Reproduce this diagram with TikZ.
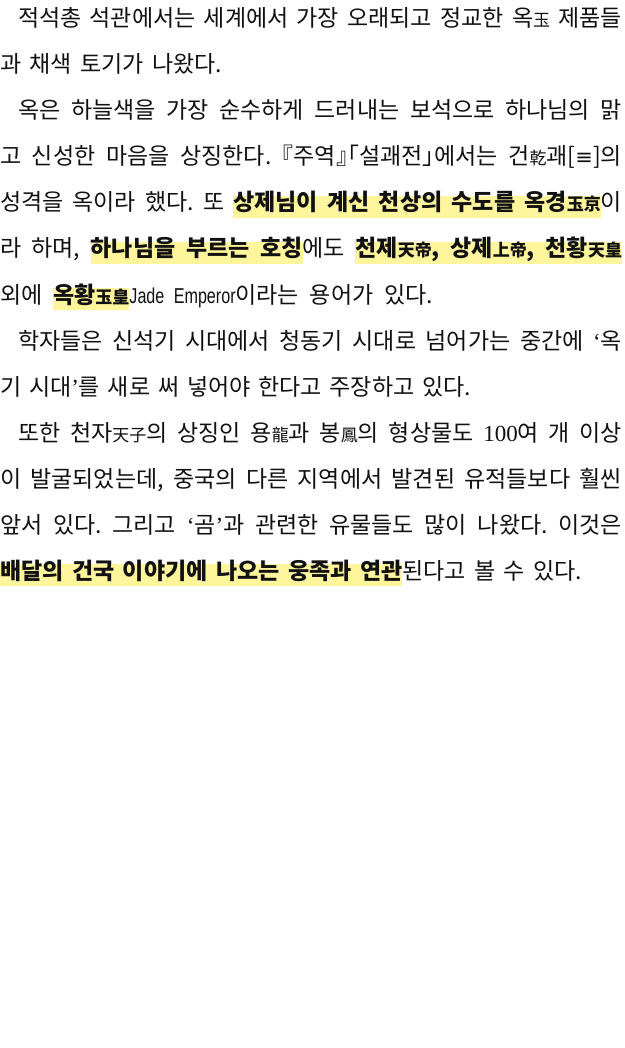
\documentclass[tikz,border=0pt]{standalone}
\usepackage{fontspec}
\setmainfont{Noto Sans CJK KR}
\newfontfamily\brk[RawFeature=+halt]{Noto Sans CJK KR}
\newfontfamily\latn[FakeStretch=0.75]{Liberation Sans}
\newfontfamily\serf{Liberation Serif}
\newfontfamily\dv{DejaVu Sans}
\usepackage{xcolor}
\definecolor{hlc}{HTML}{FFF59D}
\definecolor{txt}{HTML}{111111}
\newcommand\hj[1]{{\fontsize{17pt}{17pt}\selectfont #1}}
\newcommand\hw[1]{\setbox0=\hbox{#1}\rlap{\textcolor{hlc}{\rule[-7pt]{\wd0}{22pt}}}\box0}
\newcommand\hs{{\color{hlc}\leaders\hrule height 15pt depth 7pt\hskip\fontdimen2\font plus\fontdimen3\font minus\fontdimen4\font}}
\newcommand\jem{{\latn\fontsize{21.5pt}{22pt}\selectfont Jade Emperor}}
\tikzset{ln/.style={anchor=base west, inner sep=0pt, outer sep=0pt, text=txt,
  font=\fontsize{23pt}{27pt}\selectfont\frenchspacing}}
\begin{document}
\begin{tikzpicture}[x=1pt,y=1pt]
\fill[white] (0,0) rectangle (624,-1048);
\useasboundingbox (0,0) rectangle (624,-1048);
\node[ln] (l1) at (18,-27) {\makebox[604pt][s]{적석총 석관에서는 세계에서 가장 오래되고 정교한 옥\hj{玉} 제품들}};
\node[ln] (l2) at (0,-73) {\makebox[222pt][s]{과 채색 토기가 나왔다.}};
\node[ln] (l3) at (18,-119) {\makebox[604pt][s]{옥은 하늘색을 가장 순수하게 드러내는 보석으로 하나님의 맑}};
\node[ln] (l4) at (0,-165) {\makebox[622pt][s]{고 신성한 마음을 상징한다. {\brk 『}주역{\brk 』「}설괘전{\brk 」}에서는 건\hj{乾}괘[{\dv\fontsize{21pt}{21pt}\selectfont ≡}]의}};
\node[ln] (l5) at (0,-211) {\makebox[622pt][s]{성격을 옥이라 했다. 또 {\bfseries\hw{상제님이}\hs\hw{계신}\hs\hw{천상의}\hs\hw{수도를}\hs\hw{옥경\hj{玉京}}}이}};
\node[ln] (l6) at (0,-257) {\makebox[622pt][s]{라 하며, {\bfseries\hw{하나님을}\hs\hw{부르는}\hs\hw{호칭}}에도 {\bfseries\hw{천제\hj{天帝},}\hs\hw{상제\hj{上帝},}\hs\hw{천황\hj{天皇}}}}};
\node[ln] (l7) at (0,-303) {\makebox[433pt][s]{외에 {\bfseries\hw{옥황\hj{玉皇}}}\jem 이라는 용어가 있다.}};
\node[ln] (l8) at (18,-349) {\makebox[604pt][s]{학자들은 신석기 시대에서 청동기 시대로 넘어가는 중간에 {\serf ‘}옥}};
\node[ln] (l9) at (0,-395) {\makebox[471pt][s]{기 시대{\serf ’}를 새로 써 넣어야 한다고 주장하고 있다.}};
\node[ln] (l10) at (18,-441) {\makebox[604pt][s]{또한 천자\hj{天子}의 상징인 용\hj{龍}과 봉\hj{鳳}의 형상물도 {\serf 100}여 개 이상}};
\node[ln] (l11) at (0,-487) {\makebox[622pt][s]{이 발굴되었는데, 중국의 다른 지역에서 발견된 유적들보다 훨씬}};
\node[ln] (l12) at (0,-533) {\makebox[622pt][s]{앞서 있다. 그리고 {\serf ‘}곰{\serf ’}과 관련한 유물들도 많이 나왔다. 이것은}};
\node[ln] (l13) at (0,-579) {\makebox[582pt][s]{{\bfseries\hw{배달의}\hs\hw{건국}\hs\hw{이야기에}\hs\hw{나오는}\hs\hw{웅족과}\hs\hw{연관}}된다고 볼 수 있다.}};
\end{tikzpicture}
\end{document}
